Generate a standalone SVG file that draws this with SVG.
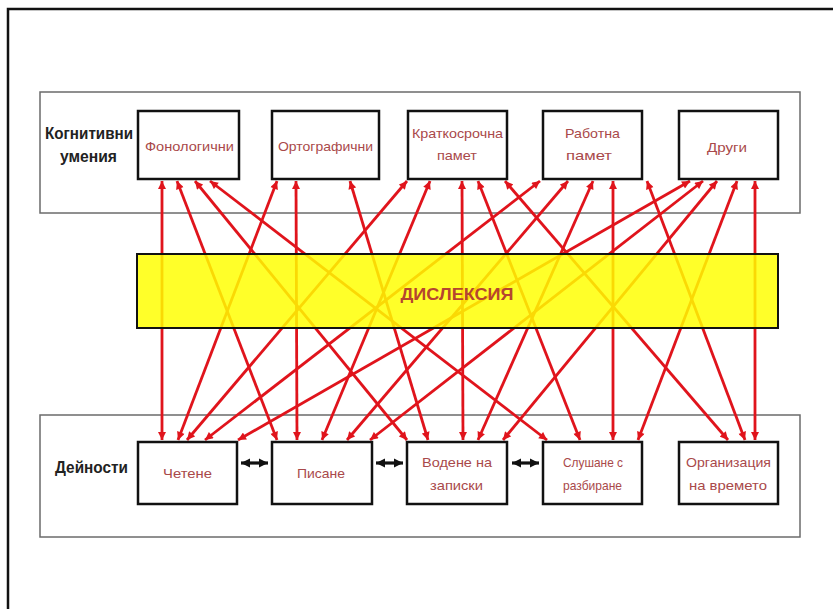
<svg xmlns="http://www.w3.org/2000/svg" width="840" height="609" viewBox="0 0 840 609">
<style>
.panel{fill:#fff;stroke:#6b6b6b;stroke-width:1.5}
.box{fill:#fff;stroke:#111;stroke-width:2.5}
.lbl{font-family:"Liberation Sans",Arial,sans-serif;font-weight:bold;font-size:17px;fill:#222}
.nt{font-family:"Liberation Sans",Arial,sans-serif;font-size:13px;fill:#a9494a}
.conn line{stroke:#e0141c;stroke-width:2.8;marker-start:url(#ah);marker-end:url(#ah)}
.blk line{stroke:#111;stroke-width:3.2;marker-start:url(#bh);marker-end:url(#bh)}
</style>
<defs>
<marker id="ah" viewBox="0 0 10 10" refX="10" refY="5" markerWidth="9" markerHeight="8" markerUnits="userSpaceOnUse" orient="auto-start-reverse"><path d="M0,0 L10,5 L0,10 z" fill="#e0141c"/></marker>
<marker id="bh" viewBox="0 0 10 10" refX="10" refY="5" markerWidth="9" markerHeight="10" markerUnits="userSpaceOnUse" orient="auto-start-reverse"><path d="M0,0 L10,5 L0,10 z" fill="#111"/></marker>
</defs>
<rect width="840" height="609" fill="#fff"/>
<path d="M8,609 V9 H833" fill="none" stroke="#111" stroke-width="2.5"/>
<g id="panel-cognitive">
<rect class="panel" x="40" y="92" width="760" height="121"/>
<text class="lbl" x="45" y="139" textLength="88" lengthAdjust="spacingAndGlyphs">Когнитивни</text>
<text class="lbl" x="60" y="162" textLength="57" lengthAdjust="spacingAndGlyphs">умения</text>
</g>
<g id="panel-activities">
<rect class="panel" x="40" y="415" width="760" height="122"/>
<text class="lbl" x="55" y="473" textLength="73" lengthAdjust="spacingAndGlyphs">Дейности</text>
</g>
<g id="connectors" class="conn">
<line x1="162" y1="181" x2="162" y2="440"/>
<line x1="177" y1="181" x2="277" y2="440"/>
<line x1="195" y1="181" x2="407" y2="440"/>
<line x1="210" y1="181" x2="547" y2="440"/>
<line x1="277" y1="181" x2="178" y2="440"/>
<line x1="296" y1="181" x2="297" y2="440"/>
<line x1="350" y1="181" x2="428" y2="440"/>
<line x1="407" y1="181" x2="187" y2="440"/>
<line x1="430" y1="181" x2="322" y2="440"/>
<line x1="462" y1="181" x2="463" y2="440"/>
<line x1="478" y1="181" x2="580" y2="440"/>
<line x1="505" y1="181" x2="728" y2="440"/>
<line x1="540" y1="181" x2="205" y2="440"/>
<line x1="568" y1="181" x2="347" y2="440"/>
<line x1="593" y1="181" x2="478" y2="440"/>
<line x1="613" y1="181" x2="613" y2="440"/>
<line x1="647" y1="181" x2="745" y2="440"/>
<line x1="690" y1="181" x2="238" y2="440"/>
<line x1="703" y1="181" x2="370" y2="440"/>
<line x1="717" y1="181" x2="503" y2="440"/>
<line x1="737" y1="181" x2="638" y2="440"/>
<line x1="755" y1="181" x2="755" y2="440"/>
</g>
<g id="activity-links" class="blk">
<line x1="241" y1="463" x2="268" y2="463"/>
<line x1="376" y1="463" x2="403" y2="463"/>
<line x1="512" y1="463" x2="539" y2="463"/>
</g>
<g id="dyslexia">
<rect x="137" y="254" width="641" height="74" fill="#ffff00" fill-opacity="0.84" stroke="#111" stroke-width="2"/>
<text x="457" y="300" text-anchor="middle" font-family="Liberation Sans,Arial,sans-serif" font-weight="bold" font-size="17" fill="#b5452f" textLength="113" lengthAdjust="spacingAndGlyphs">ДИСЛЕКСИЯ</text>
</g>
<g id="phonological">
<rect class="box" x="138" y="111" width="101" height="68"/>
<text class="nt" x="145" y="151" textLength="89" lengthAdjust="spacingAndGlyphs">Фонологични</text>
</g>
<g id="orthographic">
<rect class="box" x="272" y="111" width="107" height="68"/>
<text class="nt" x="278" y="151" textLength="95" lengthAdjust="spacingAndGlyphs">Ортографични</text>
</g>
<g id="short-term-memory">
<rect class="box" x="408" y="111" width="99" height="68"/>
<text class="nt" x="412" y="138" textLength="91" lengthAdjust="spacingAndGlyphs">Краткосрочна</text>
<text class="nt" x="437" y="160" textLength="40" lengthAdjust="spacingAndGlyphs">памет</text>
</g>
<g id="working-memory">
<rect class="box" x="543" y="111" width="99" height="68"/>
<text class="nt" x="565" y="138" textLength="55" lengthAdjust="spacingAndGlyphs">Работна</text>
<text class="nt" x="566" y="160" textLength="46" lengthAdjust="spacingAndGlyphs">памет</text>
</g>
<g id="other">
<rect class="box" x="679" y="111" width="99" height="68"/>
<text class="nt" x="707" y="152" textLength="40" lengthAdjust="spacingAndGlyphs">Други</text>
</g>
<g id="reading">
<rect class="box" x="138" y="442" width="99" height="62"/>
<text class="nt" x="163" y="478" textLength="49" lengthAdjust="spacingAndGlyphs">Четене</text>
</g>
<g id="writing">
<rect class="box" x="272" y="442" width="100" height="62"/>
<text class="nt" x="297" y="478" textLength="48" lengthAdjust="spacingAndGlyphs">Писане</text>
</g>
<g id="note-taking">
<rect class="box" x="407" y="442" width="100" height="62"/>
<text class="nt" x="422" y="467" textLength="70" lengthAdjust="spacingAndGlyphs">Водене на</text>
<text class="nt" x="430" y="490" textLength="53" lengthAdjust="spacingAndGlyphs">записки</text>
</g>
<g id="listening">
<rect class="box" x="543" y="442" width="99" height="62"/>
<text class="nt" x="563" y="467" textLength="60" lengthAdjust="spacingAndGlyphs">Слушане с</text>
<text class="nt" x="563" y="490" textLength="59" lengthAdjust="spacingAndGlyphs">разбиране</text>
</g>
<g id="time-organisation">
<rect class="box" x="679" y="442" width="99" height="62"/>
<text class="nt" x="686" y="467" textLength="85" lengthAdjust="spacingAndGlyphs">Организация</text>
<text class="nt" x="689" y="490" textLength="78" lengthAdjust="spacingAndGlyphs">на времето</text>
</g>
</svg>
